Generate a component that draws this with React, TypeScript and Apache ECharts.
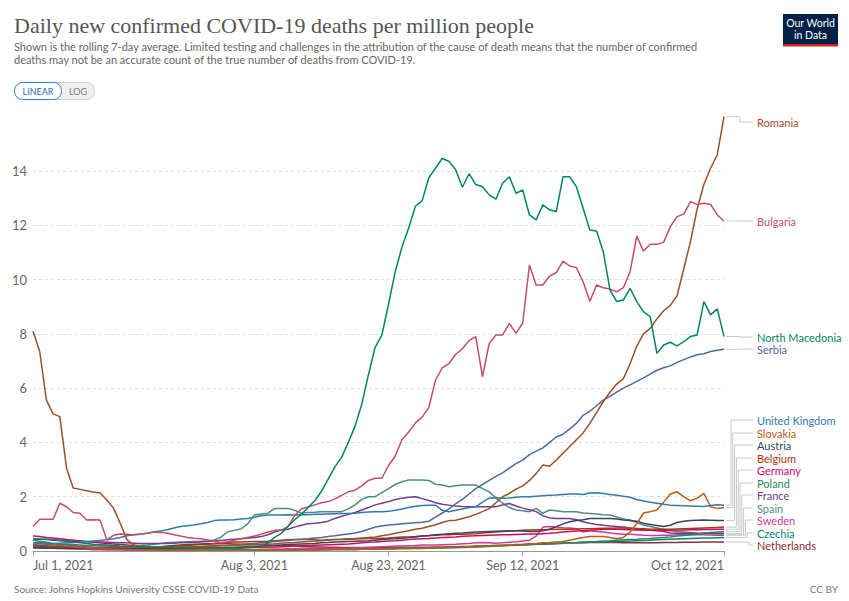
import React, { useEffect, useRef } from "react";
import * as echarts from "echarts";

// ---------- categories ----------
const START = Date.UTC(2021, 6, 1);
const N_DAYS = 104;
const dates: string[] = [];
for (let i = 0; i < N_DAYS; i++) {
  dates.push(new Date(START + i * 86400000).toISOString().slice(0, 10));
}
const tickDates = ["2021-07-01", "2021-08-03", "2021-08-23", "2021-09-12", "2021-10-12"];
const tickLabels = ["Jul 1, 2021", "Aug 3, 2021", "Aug 23, 2021", "Sep 12, 2021", "Oct 12, 2021"];

// ---------- series values (deaths per million, 7-day avg) ----------
const romania = [
  8.1, 7.35, 5.56, 5.05, 4.95, 3.05, 2.32, 2.27, 2.22, 2.17, 2.14,
  1.88, 1.58, 1.02, 0.42, 0.22, 0.18, 0.16, 0.15, 0.15, 0.14,
  0.15, 0.16, 0.15, 0.16, 0.17, 0.18, 0.18, 0.2, 0.2, 0.21,
  0.22, 0.22, 0.24, 0.25, 0.26, 0.27, 0.29, 0.3, 0.31, 0.33,
  0.35, 0.36, 0.38, 0.4, 0.42, 0.43, 0.45, 0.46, 0.48, 0.5,
  0.52, 0.56, 0.6, 0.65, 0.7, 0.75, 0.8, 0.84, 0.9, 0.97,
  1.05, 1.12, 1.13, 1.2, 1.26, 1.35, 1.45, 1.56, 1.78, 2.0,
  2.12, 2.28, 2.4, 2.6, 2.85, 3.17, 3.12, 3.35, 3.6, 3.85,
  4.1, 4.35, 4.7, 5.1, 5.5, 5.85, 6.15, 6.35, 6.9, 7.55,
  8.0, 8.2, 8.55, 8.85, 9.05, 9.4, 10.4, 11.4, 12.6, 13.5,
  14.1, 14.6, 16.0,
];
const bulgaria = [
  0.9, 1.17, 1.17, 1.17, 1.76, 1.63, 1.42, 1.39, 1.14, 1.15, 1.14,
  0.41, 0.58, 0.63, 0.62, 0.6, 0.63, 0.65, 0.7, 0.68, 0.66,
  0.6, 0.55, 0.5, 0.47, 0.45, 0.41, 0.35, 0.3, 0.33, 0.4,
  0.45, 0.5, 0.55, 0.62, 0.7, 0.76, 0.77, 0.9, 1.3, 1.56,
  1.62, 1.7, 1.78, 1.82, 1.92, 2.05, 2.18, 2.24, 2.4, 2.6,
  2.68, 2.68, 3.15, 3.5, 4.1, 4.38, 4.72, 4.93, 5.28, 6.3,
  6.75, 6.9, 7.25, 7.45, 7.75, 7.9, 6.42, 7.65, 7.96, 7.96,
  8.38, 8.02, 8.4, 10.54, 9.8, 9.8, 10.13, 10.26, 10.68, 10.5,
  10.44, 9.92, 9.19, 9.8, 9.7, 9.65, 9.55, 9.7, 10.29, 11.6,
  11.05, 11.3, 11.3, 11.37, 11.95, 12.32, 12.41, 12.87, 12.77, 12.81,
  12.77, 12.38, 12.16,
];
const northMacedonia = [
  0.45, 0.43, 0.42, 0.4, 0.38, 0.36, 0.33, 0.3, 0.28, 0.25, 0.24,
  0.22, 0.2, 0.18, 0.17, 0.16, 0.15, 0.14, 0.14, 0.13, 0.13,
  0.12, 0.12, 0.12, 0.11, 0.11, 0.11, 0.1, 0.1, 0.1, 0.1,
  0.1, 0.12, 0.14, 0.16, 0.3, 0.5, 0.65, 0.9, 1.15, 1.35,
  1.6, 1.85, 2.2, 2.65, 3.1, 3.45, 4.0, 4.6, 5.4, 6.5,
  7.5, 7.95, 9.1, 10.3, 11.2, 11.9, 12.7, 12.9, 13.75, 14.1,
  14.47, 14.35, 14.05, 13.4, 13.9, 13.5, 13.42, 13.12, 12.96, 13.55,
  13.79, 13.18, 13.3, 12.38, 12.2, 12.75, 12.57, 12.5, 13.79, 13.79,
  13.42, 12.63, 11.83, 11.79, 11.03, 9.62, 9.19, 9.25, 9.68, 9.19,
  8.82, 8.63, 7.28, 7.59, 7.69, 7.56, 7.71, 7.9, 7.96, 9.19,
  8.7, 8.92, 7.9,
];
const serbia = [
  0.3, 0.3, 0.28, 0.27, 0.25, 0.25, 0.24, 0.22, 0.2, 0.2, 0.19,
  0.18, 0.17, 0.16, 0.15, 0.15, 0.14, 0.14, 0.14, 0.14, 0.15,
  0.15, 0.15, 0.15, 0.16, 0.16, 0.17, 0.18, 0.19, 0.2, 0.22,
  0.24, 0.26, 0.28, 0.3, 0.32, 0.35, 0.37, 0.39, 0.41, 0.43,
  0.45, 0.48, 0.5, 0.53, 0.56, 0.6, 0.63, 0.66, 0.72, 0.8,
  0.88, 0.92, 0.96, 0.98, 1.0, 1.02, 1.04, 1.06, 1.1, 1.25,
  1.4, 1.55, 1.74, 1.9, 2.1, 2.3, 2.45, 2.6, 2.75, 2.88,
  3.05, 3.22, 3.35, 3.55, 3.68, 3.8, 4.0, 4.2, 4.3, 4.5,
  4.7, 5.0, 5.15, 5.35, 5.56, 5.7, 5.85, 6.0, 6.12, 6.25,
  6.38, 6.52, 6.66, 6.75, 6.82, 6.95, 7.05, 7.15, 7.23, 7.27,
  7.35, 7.4, 7.43,
];
const unitedKingdom = [
  0.25, 0.26, 0.27, 0.28, 0.29, 0.3, 0.31, 0.33, 0.35, 0.37, 0.39,
  0.41, 0.45, 0.5, 0.56, 0.6, 0.62, 0.65, 0.7, 0.74, 0.78,
  0.85, 0.9, 0.93, 0.96, 1.0, 1.05, 1.12, 1.14, 1.14, 1.15,
  1.18, 1.2, 1.24, 1.3, 1.33, 1.33, 1.33, 1.34, 1.33, 1.34,
  1.34, 1.35, 1.35, 1.36, 1.37, 1.38, 1.38, 1.39, 1.42, 1.44,
  1.45, 1.45, 1.46, 1.5, 1.55, 1.6, 1.65, 1.68, 1.69, 1.69,
  1.5, 1.45, 1.5, 1.55, 1.6, 1.63, 1.8, 1.95, 1.96, 1.94,
  1.95, 1.98, 2.0, 2.0, 2.02, 2.04, 2.05, 2.06, 2.08, 2.1,
  2.1, 2.08, 2.14, 2.15, 2.12, 2.08, 2.05, 2.02, 1.98, 1.9,
  1.84, 1.8, 1.76, 1.72, 1.69, 1.68, 1.67, 1.66, 1.65, 1.64,
  1.68, 1.7, 1.69,
];
const slovakia = [
  0.3, 0.28, 0.25, 0.22, 0.2, 0.18, 0.15, 0.13, 0.12, 0.1, 0.09,
  0.08, 0.07, 0.06, 0.06, 0.05, 0.05, 0.04, 0.04, 0.04, 0.04,
  0.03, 0.03, 0.03, 0.03, 0.03, 0.03, 0.03, 0.04, 0.04, 0.04,
  0.04, 0.04, 0.05, 0.05, 0.05, 0.05, 0.05, 0.05, 0.05, 0.05,
  0.05, 0.05, 0.05, 0.05, 0.06, 0.06, 0.06, 0.07, 0.07, 0.08,
  0.08, 0.08, 0.09, 0.1, 0.1, 0.1, 0.11, 0.12, 0.12, 0.13,
  0.13, 0.14, 0.15, 0.15, 0.16, 0.17, 0.18, 0.19, 0.2, 0.21,
  0.22, 0.24, 0.25, 0.27, 0.28, 0.3, 0.31, 0.33, 0.35, 0.4,
  0.45, 0.5, 0.53, 0.53, 0.53, 0.5, 0.45, 0.5, 0.7, 1.0,
  1.4, 1.45, 1.51, 1.8, 2.1, 2.18, 2.0, 1.85, 1.95, 2.12,
  1.63, 1.57, 1.6,
];
const austria = [
  0.12, 0.12, 0.11, 0.11, 0.1, 0.1, 0.1, 0.09, 0.09, 0.09, 0.08,
  0.08, 0.08, 0.08, 0.08, 0.08, 0.08, 0.08, 0.08, 0.08, 0.09,
  0.09, 0.09, 0.1, 0.1, 0.1, 0.11, 0.11, 0.12, 0.13, 0.14,
  0.15, 0.16, 0.17, 0.18, 0.19, 0.2, 0.22, 0.24, 0.25, 0.26,
  0.27, 0.28, 0.3, 0.31, 0.33, 0.34, 0.35, 0.36, 0.37, 0.38,
  0.4, 0.42, 0.44, 0.45, 0.47, 0.5, 0.52, 0.55, 0.57, 0.6,
  0.62, 0.64, 0.65, 0.66, 0.68, 0.7, 0.71, 0.72, 0.73, 0.74,
  0.75, 0.75, 0.74, 0.72, 0.72, 0.75, 0.8, 0.9, 1.0, 1.08,
  1.12, 1.15, 1.2, 1.2, 1.2, 1.2, 1.18, 1.14, 1.12, 1.1,
  1.02, 0.98, 0.94, 0.9, 0.95, 1.05, 1.1, 1.12, 1.13, 1.14,
  1.13, 1.12, 1.12,
];
const belgium = [
  0.18, 0.18, 0.17, 0.17, 0.16, 0.15, 0.15, 0.14, 0.14, 0.13, 0.13,
  0.12, 0.12, 0.12, 0.12, 0.12, 0.12, 0.13, 0.13, 0.14, 0.15,
  0.16, 0.18, 0.2, 0.22, 0.24, 0.25, 0.27, 0.3, 0.32, 0.33,
  0.33, 0.34, 0.35, 0.35, 0.36, 0.38, 0.4, 0.41, 0.42, 0.42,
  0.42, 0.41, 0.4, 0.41, 0.42, 0.42, 0.43, 0.44, 0.45, 0.46,
  0.46, 0.47, 0.48, 0.5, 0.52, 0.52, 0.53, 0.55, 0.56, 0.58,
  0.6, 0.6, 0.62, 0.62, 0.63, 0.64, 0.66, 0.68, 0.7, 0.72,
  0.74, 0.75, 0.76, 0.77, 0.78, 0.78, 0.79, 0.8, 0.8, 0.8,
  0.81, 0.82, 0.82, 0.83, 0.84, 0.84, 0.85, 0.85, 0.84, 0.83,
  0.82, 0.8, 0.8, 0.8, 0.8, 0.81, 0.82, 0.83, 0.84, 0.85,
  0.86, 0.87, 0.88,
];
const germany = [
  0.55, 0.53, 0.5, 0.48, 0.45, 0.42, 0.4, 0.38, 0.35, 0.33, 0.3,
  0.28, 0.26, 0.24, 0.22, 0.2, 0.18, 0.17, 0.16, 0.15, 0.14,
  0.13, 0.12, 0.12, 0.11, 0.11, 0.11, 0.11, 0.11, 0.12, 0.12,
  0.12, 0.13, 0.13, 0.14, 0.14, 0.15, 0.16, 0.17, 0.18, 0.19,
  0.2, 0.21, 0.22, 0.23, 0.24, 0.25, 0.26, 0.28, 0.3, 0.32,
  0.33, 0.35, 0.37, 0.38, 0.4, 0.42, 0.44, 0.45, 0.46, 0.48,
  0.5, 0.51, 0.52, 0.54, 0.55, 0.56, 0.57, 0.58, 0.59, 0.6,
  0.6, 0.61, 0.62, 0.63, 0.63, 0.64, 0.65, 0.67, 0.7, 0.72,
  0.74, 0.75, 0.76, 0.78, 0.8, 0.8, 0.8, 0.79, 0.78, 0.77,
  0.76, 0.76, 0.75, 0.75, 0.76, 0.77, 0.77, 0.78, 0.78, 0.79,
  0.79, 0.8, 0.8,
];
const poland = [
  0.4, 0.36, 0.32, 0.28, 0.25, 0.22, 0.2, 0.17, 0.15, 0.13, 0.12,
  0.1, 0.09, 0.08, 0.07, 0.06, 0.06, 0.05, 0.05, 0.05, 0.04,
  0.04, 0.04, 0.04, 0.04, 0.03, 0.03, 0.03, 0.03, 0.03, 0.03,
  0.03, 0.03, 0.03, 0.03, 0.03, 0.04, 0.04, 0.04, 0.04, 0.04,
  0.04, 0.04, 0.05, 0.05, 0.05, 0.05, 0.05, 0.05, 0.06, 0.06,
  0.06, 0.07, 0.07, 0.07, 0.08, 0.08, 0.09, 0.09, 0.1, 0.1,
  0.11, 0.12, 0.12, 0.13, 0.14, 0.15, 0.16, 0.17, 0.18, 0.19,
  0.2, 0.21, 0.22, 0.24, 0.25, 0.26, 0.27, 0.28, 0.29, 0.3,
  0.31, 0.33, 0.34, 0.35, 0.37, 0.38, 0.4, 0.41, 0.42, 0.43,
  0.45, 0.46, 0.48, 0.5, 0.52, 0.55, 0.57, 0.6, 0.62, 0.65,
  0.68, 0.7, 0.72,
];
const france = [
  0.45, 0.44, 0.43, 0.42, 0.4, 0.38, 0.36, 0.35, 0.34, 0.33, 0.33,
  0.32, 0.31, 0.3, 0.3, 0.29, 0.28, 0.28, 0.28, 0.28, 0.28,
  0.29, 0.3, 0.31, 0.32, 0.33, 0.35, 0.37, 0.39, 0.41, 0.43,
  0.45, 0.47, 0.5, 0.53, 0.6, 0.7, 0.77, 0.8, 0.88, 0.95,
  1.0, 1.02, 1.05, 1.1, 1.2, 1.28, 1.35, 1.42, 1.51, 1.6,
  1.7, 1.76, 1.82, 1.9, 1.94, 1.98, 2.0, 1.93, 1.86, 1.78,
  1.72, 1.69, 1.66, 1.64, 1.63, 1.63, 1.63, 1.63, 1.63, 1.7,
  1.75, 1.66, 1.58, 1.52, 1.45, 1.3, 1.22, 1.2, 1.2, 1.2,
  1.15, 1.08, 1.02, 0.98, 0.95, 0.92, 0.9, 0.88, 0.85, 0.8,
  0.77, 0.77, 0.76, 0.72, 0.66, 0.65, 0.65, 0.65, 0.64, 0.65,
  0.65, 0.65, 0.65,
];
const spain = [
  0.15, 0.15, 0.14, 0.14, 0.13, 0.13, 0.13, 0.12, 0.12, 0.12, 0.13,
  0.13, 0.14, 0.15, 0.16, 0.18, 0.2, 0.22, 0.25, 0.28, 0.3,
  0.32, 0.33, 0.34, 0.35, 0.36, 0.38, 0.41, 0.5, 0.71, 0.76,
  0.81, 1.0, 1.33, 1.36, 1.39, 1.57, 1.57, 1.57, 1.5, 1.39,
  1.42, 1.43, 1.45, 1.45, 1.45, 1.45, 1.55, 1.7, 1.9, 2.0,
  2.0, 2.15, 2.3, 2.45, 2.55, 2.62, 2.62, 2.62, 2.6, 2.46,
  2.43, 2.37, 2.4, 2.43, 2.43, 2.43, 2.3, 2.18, 1.95, 1.76,
  1.6, 1.51, 1.48, 1.45, 1.57, 1.39, 1.51, 1.48, 1.45, 1.45,
  1.45, 1.4, 1.38, 1.36, 1.34, 1.33, 1.25, 1.18, 1.14, 1.05,
  0.96, 0.9, 0.85, 0.8, 0.75, 0.72, 0.7, 0.68, 0.66, 0.65,
  0.64, 0.63, 0.62,
];
const sweden = [
  0.2, 0.18, 0.15, 0.13, 0.12, 0.1, 0.08, 0.07, 0.06, 0.05, 0.05,
  0.04, 0.04, 0.04, 0.03, 0.03, 0.03, 0.03, 0.03, 0.02, 0.02,
  0.02, 0.02, 0.02, 0.02, 0.02, 0.03, 0.03, 0.03, 0.04, 0.04,
  0.04, 0.05, 0.05, 0.06, 0.06, 0.07, 0.07, 0.08, 0.08, 0.09,
  0.09, 0.1, 0.1, 0.1, 0.1, 0.1, 0.1, 0.12, 0.13, 0.14,
  0.15, 0.16, 0.17, 0.18, 0.18, 0.19, 0.2, 0.22, 0.22, 0.22,
  0.23, 0.24, 0.25, 0.27, 0.28, 0.3, 0.31, 0.3, 0.29, 0.3,
  0.32, 0.34, 0.37, 0.4, 0.55, 0.88, 0.9, 0.88, 0.86, 0.85,
  0.82, 0.7, 0.75, 0.72, 0.7, 0.66, 0.64, 0.62, 0.62, 0.6,
  0.58, 0.57, 0.57, 0.58, 0.58, 0.6, 0.6, 0.6, 0.6, 0.6,
  0.59, 0.58, 0.58,
];
const czechia = [
  0.22, 0.2, 0.19, 0.17, 0.16, 0.15, 0.14, 0.13, 0.12, 0.1, 0.1,
  0.09, 0.08, 0.08, 0.07, 0.06, 0.06, 0.05, 0.05, 0.05, 0.04,
  0.04, 0.04, 0.04, 0.03, 0.03, 0.03, 0.03, 0.03, 0.03, 0.03,
  0.03, 0.03, 0.03, 0.04, 0.04, 0.04, 0.04, 0.04, 0.04, 0.05,
  0.05, 0.05, 0.05, 0.06, 0.06, 0.06, 0.07, 0.07, 0.07, 0.08,
  0.08, 0.08, 0.09, 0.09, 0.1, 0.1, 0.1, 0.11, 0.11, 0.12,
  0.12, 0.13, 0.14, 0.15, 0.16, 0.17, 0.17, 0.18, 0.19, 0.2,
  0.21, 0.22, 0.23, 0.24, 0.25, 0.26, 0.27, 0.28, 0.29, 0.3,
  0.3, 0.31, 0.32, 0.33, 0.33, 0.34, 0.35, 0.36, 0.37, 0.38,
  0.39, 0.4, 0.41, 0.42, 0.43, 0.44, 0.45, 0.46, 0.47, 0.48,
  0.48, 0.49, 0.5,
];
const netherlands = [
  0.12, 0.11, 0.1, 0.1, 0.09, 0.08, 0.08, 0.07, 0.07, 0.07, 0.07,
  0.07, 0.08, 0.08, 0.09, 0.1, 0.11, 0.12, 0.14, 0.16, 0.18,
  0.2, 0.22, 0.24, 0.25, 0.26, 0.27, 0.27, 0.27, 0.27, 0.26,
  0.25, 0.25, 0.24, 0.23, 0.22, 0.21, 0.2, 0.19, 0.18, 0.17,
  0.16, 0.15, 0.15, 0.14, 0.14, 0.13, 0.13, 0.13, 0.12, 0.12,
  0.12, 0.12, 0.12, 0.13, 0.13, 0.13, 0.14, 0.14, 0.14, 0.15,
  0.15, 0.16, 0.16, 0.17, 0.17, 0.18, 0.18, 0.19, 0.2, 0.2,
  0.21, 0.22, 0.23, 0.24, 0.25, 0.26, 0.27, 0.28, 0.29, 0.3,
  0.3, 0.3, 0.31, 0.31, 0.31, 0.31, 0.31, 0.3, 0.3, 0.3,
  0.3, 0.3, 0.3, 0.31, 0.31, 0.31, 0.32, 0.32, 0.32, 0.33,
  0.33, 0.33, 0.33,
];

const countryNames = [
  "Romania", "Bulgaria", "North Macedonia", "Serbia",
  "United Kingdom", "Slovakia", "Austria", "Belgium", "Germany", "Poland",
  "France", "Spain", "Sweden", "Czechia", "Netherlands",
];
const countryValues = [
  romania, bulgaria, northMacedonia, serbia,
  unitedKingdom, slovakia, austria, belgium, germany, poland,
  france, spain, sweden, czechia, netherlands,
];
const countryColors = [
  "#9A5129", "#C15065", "#00875E", "#4C6A9C",
  "#2E7DA8", "#C05917", "#3A4558", "#B13507", "#CF0A66", "#2A8A55",
  "#6D3E91", "#4D8A88", "#D0399A", "#00847E", "#883039",
];
// label layout (pixel rows for the end labels)
const labelRows = [122, 221, 337, 349, 420, 433, 445, 458, 470, 483, 495, 508, 520, 533, 545];

const FONT = "Lato, 'Noto Sans', sans-serif";

export default function App() {
  const ref = useRef<HTMLDivElement>(null);
  useEffect(() => {
    if (!ref.current) return;
    const chart = echarts.init(ref.current, undefined, { renderer: "svg" });
    const drawOrder = [14, 13, 12, 11, 10, 9, 8, 7, 6, 5, 4, 3, 0, 1, 2];
    const series = drawOrder.map((i) => ({
      name: countryNames[i],
      type: "line",
      data: countryValues[i],
      showSymbol: false,
      symbol: "none",
      clip: false,
      lineStyle: { color: countryColors[i], width: 1.5 },
      itemStyle: { color: countryColors[i] },
      emphasis: { disabled: true },
      silent: true,
    }));
    chart.setOption({
      animation: false,
      backgroundColor: "#ffffff",
      textStyle: { fontFamily: FONT },
      grid: { left: 33, right: 125, top: 171, bottom: 50, containLabel: false },
      xAxis: {
        type: "category",
        data: dates,
        boundaryGap: false,
        axisLine: { lineStyle: { color: "#999" } },
        axisTick: {
          interval: (_i: number, v: string) => tickDates.includes(v),
          length: 5,
          lineStyle: { color: "#999" },
        },
        axisLabel: {
          interval: (_i: number, v: string) => tickDates.includes(v),
          formatter: (v: string) => tickLabels[tickDates.indexOf(v)] ?? "",
          color: "#666",
          fontSize: 12.5,
          fontFamily: FONT,
          margin: 8,
          alignMinLabel: "left",
          alignMaxLabel: "right",
          showMinLabel: true,
          showMaxLabel: true,
        },
        splitLine: { show: false },
      },
      yAxis: {
        type: "value",
        min: 0,
        max: 14,
        interval: 2,
        axisLine: { show: false },
        axisTick: { show: false },
        axisLabel: { color: "#666", fontSize: 13, fontFamily: FONT, margin: 6 },
        splitLine: { lineStyle: { color: "#dddddd", type: [3, 3] } },
      },
      series,
    });

    const graphics: any[] = [];
    // end labels with connectors
    countryNames.forEach((name, i) => {
      const vals = countryValues[i];
      const p = chart.convertToPixel({ xAxisIndex: 0, yAxisIndex: 0 }, [dates[dates.length - 1], vals[vals.length - 1]]) as number[];
      const x0 = p[0] + 2;
      const yD = p[1];
      const yL = labelRows[i];
      const vx = i < 4 ? 740 : 731 + (i - 4) * 1.8;
      graphics.push({
        type: "polyline",
        silent: true,
        shape: { points: [[x0, yD], [vx, yD], [vx, yL], [753, yL]] },
        style: { stroke: "#c8c8c8", lineWidth: 1, fill: "none" },
      });
      graphics.push({
        type: "text",
        x: 757,
        y: yL,
        style: { text: name, fill: countryColors[i], font: `11px ${FONT}`, textVerticalAlign: "middle" },
      });
    });
    // title & subtitle
    graphics.push({
      type: "text", x: 14, y: 25,
      style: { text: "Daily new confirmed COVID-19 deaths per million people", fill: "#555", font: "22px 'Liberation Serif', serif", textVerticalAlign: "middle" },
    });
    graphics.push({
      type: "text", x: 14, y: 46,
      style: { text: "Shown is the rolling 7-day average. Limited testing and challenges in the attribution of the cause of death means that the number of confirmed", fill: "#666", font: `11px ${FONT}`, textVerticalAlign: "middle" },
    });
    graphics.push({
      type: "text", x: 14, y: 59,
      style: { text: "deaths may not be an accurate count of the true number of deaths from COVID-19.", fill: "#666", font: `11px ${FONT}`, textVerticalAlign: "middle" },
    });
    // logo
    graphics.push({ type: "rect", shape: { x: 783, y: 14, width: 55, height: 32 }, style: { fill: "#002147" } });
    graphics.push({ type: "rect", shape: { x: 783, y: 44, width: 55, height: 2.5 }, style: { fill: "#CE261E" } });
    graphics.push({ type: "text", x: 810.5, y: 23, style: { text: "Our World", fill: "#fff", font: `10.5px ${FONT}`, textAlign: "center", textVerticalAlign: "middle" } });
    graphics.push({ type: "text", x: 810.5, y: 35, style: { text: "in Data", fill: "#fff", font: `10.5px ${FONT}`, textAlign: "center", textVerticalAlign: "middle" } });
    // linear/log toggle
    graphics.push({ type: "rect", shape: { x: 14.5, y: 82.5, width: 80, height: 17, r: 8 }, style: { fill: "#f0f0f0", stroke: "#d0d0d0", lineWidth: 1 } });
    graphics.push({ type: "rect", shape: { x: 14.5, y: 82.5, width: 47, height: 17, r: 8 }, style: { fill: "#ffffff", stroke: "#3d7fc6", lineWidth: 1 } });
    graphics.push({ type: "text", x: 38, y: 91, style: { text: "LINEAR", fill: "#2b6cb0", font: `9px ${FONT}`, textAlign: "center", textVerticalAlign: "middle" } });
    graphics.push({ type: "text", x: 78, y: 91, style: { text: "LOG", fill: "#777", font: `9px ${FONT}`, textAlign: "center", textVerticalAlign: "middle" } });
    // footer
    graphics.push({ type: "text", x: 14, y: 589, style: { text: "Source: Johns Hopkins University CSSE COVID-19 Data", fill: "#777", font: `10px ${FONT}`, textVerticalAlign: "middle" } });
    graphics.push({ type: "text", x: 838, y: 589, style: { text: "CC BY", fill: "#777", font: `10px ${FONT}`, textAlign: "right", textVerticalAlign: "middle" } });

    chart.setOption({ graphic: graphics });
    return () => chart.dispose();
  }, []);
  return (
    <div
      ref={ref}
      style={{ position: "absolute", left: 0, top: 0, width: 849, height: 601, background: "#fff" }}
    />
  );
}
